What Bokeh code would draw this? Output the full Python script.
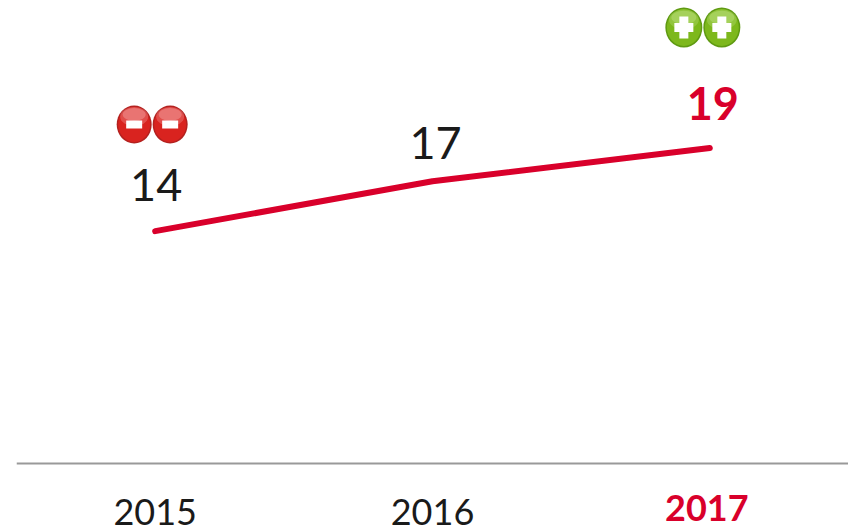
from bokeh.plotting import figure
from bokeh.models import ColumnDataSource, FactorRange, Range1d
from bokeh.transform import dodge
from bokeh.core.properties import value
from bokeh.embed import file_html
from bokeh.resources import INLINE

years = ["2015", "2016", "2017"]
values = [14, 17, 19]
value_labels = ["14", "17", "19"]
minus_years = ["2015"]
plus_years = ["2017"]

RED = "#d9002b"
DARK = "#1a1a1a"
FONT = "Lato"
BAND = 277.5   # px per category
UNIT = 16.6    # px per y unit

p = figure(width=848, height=528, x_range=FactorRange(*years, range_padding=0, factor_padding=0),
           y_range=Range1d(-65 / UNIT, 463 / UNIT), output_backend="svg", toolbar_location=None,
           min_border_left=16, min_border_right=0, min_border_top=0, min_border_bottom=0,
           outline_line_color=None)
p.x_range.group_padding = 0
p.grid.visible = False
p.yaxis.visible = False
ax = p.xaxis[0]
ax.fixed_location = 0
ax.axis_line_color = "#999999"
ax.axis_line_width = 2
ax.major_tick_line_color = None
ax.minor_tick_line_color = None
ax.major_label_text_font_size = "0px"
ax.major_label_text_color = None

src = ColumnDataSource(dict(x=years, y=values, t=value_labels,
                            dx=[1, 3, 3], dy=[-46, -38, -45],
                            color=[DARK, DARK, RED],
                            style=["normal", "normal", "bold"]))
p.line("x", "y", source=src, line_color=RED, line_width=6, line_cap="round")
p.text("x", "y", text="t", source=src, x_offset="dx", y_offset="dy", text_align="center",
       text_baseline="middle", text_color="color", text_font=value(FONT),
       text_font_size="45px", text_font_style="style")

tick_src = ColumnDataSource(dict(x=years, y=[0] * len(years), t=years,
                                 dx=[0, 0, -3], dy=[48, 48, 44],
                                 color=[DARK, DARK, RED],
                                 style=["normal", "normal", "bold"]))
p.text("x", "y", text="t", source=tick_src, x_offset="dx", y_offset="dy", text_align="center",
       text_baseline="middle", text_color="color", text_font=value(FONT),
       text_font_size="36px", text_font_style="style")


def icons(year, level, dxs, w, h, edge, base, glow, kind):
    for d in dxs:
        x = dodge("x", d / BAND, range=p.x_range)
        one = ColumnDataSource(dict(x=year, y=[level]))
        yup = dodge("y", 8 / UNIT, range=p.y_range)
        yup2 = dodge("y", 10 / UNIT, range=p.y_range)
        p.ellipse(x=x, y="y", width=w, height=h, width_units="screen", height_units="screen",
                  source=one, fill_color=edge, line_color=None)
        p.ellipse(x=x, y="y", width=w - 3, height=h - 3, width_units="screen", height_units="screen",
                  source=one, fill_color=base, line_color=None)
        p.ellipse(x=x, y=yup, width=w - 7, height=h * 0.5, width_units="screen", height_units="screen",
                  source=one, fill_color=glow, fill_alpha=0.3, line_color=None)
        p.ellipse(x=x, y=yup2, width=w - 12, height=h * 0.34, width_units="screen", height_units="screen",
                  source=one, fill_color=glow, fill_alpha=0.4, line_color=None)
        if kind == "minus":
            p.rect(x=x, y="y", width=16, height=8, width_units="screen", height_units="screen",
                   source=one, fill_color="white", line_color=None)
        else:
            p.rect(x=x, y="y", width=19, height=9, width_units="screen", height_units="screen",
                   source=one, fill_color="white", line_color=None)
            p.rect(x=x, y="y", width=9, height=22, width_units="screen", height_units="screen",
                   source=one, fill_color="white", line_color=None)


icons(minus_years, 339 / UNIT, [-21, 15], 35, 38, "#b3211f", "#d9231f", "#f4b0b0", "minus")
icons(plus_years, 436 / UNIT, [-26, 12], 37, 40, "#5f9a12", "#7db81c", "#c4e48a", "plus")

open("out.html", "w").write(file_html(p, INLINE))
